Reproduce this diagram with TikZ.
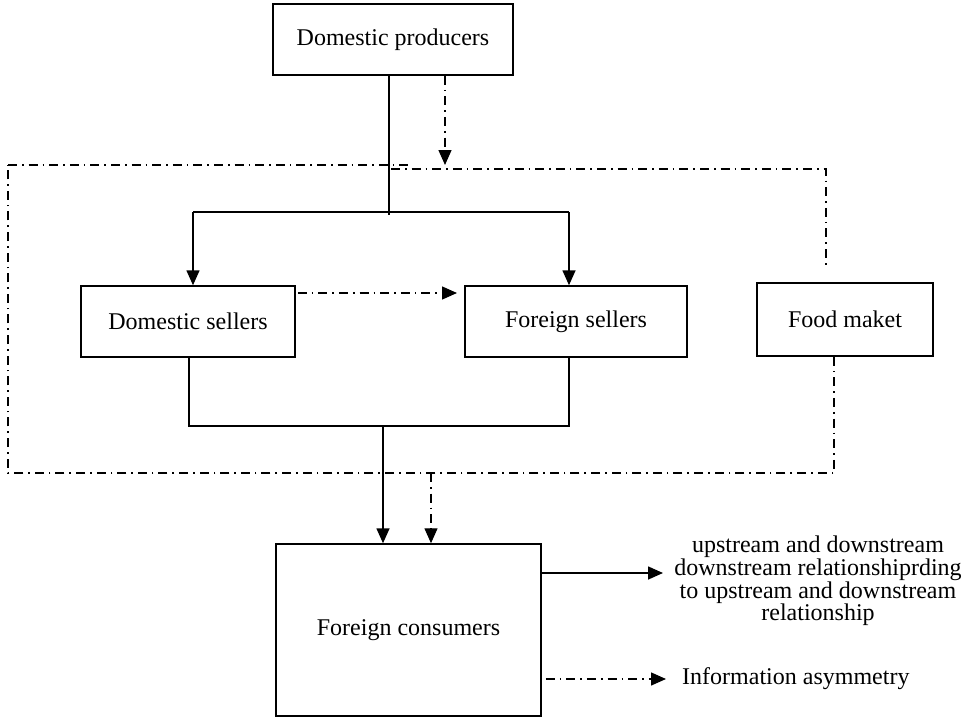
\documentclass[tikz,border=0pt]{standalone}
\usepackage{fontspec}
\setmainfont{Liberation Serif}
\usetikzlibrary{arrows.meta}
\begin{document}
\begin{tikzpicture}[x=1pt,y=-1pt,
  box/.style={draw,line width=1.5pt,inner sep=0pt,font=\fontsize{24}{21}\selectfont},
  flow/.style={line width=1.6pt},
  arr/.style={-{Triangle[length=15pt,width=13pt]}},
  dd/.style={line width=1.4pt,dash pattern=on 9pt off 5pt on 1.6pt off 5pt},
  lbl/.style={inner sep=0pt,font=\fontsize{24}{21}\selectfont}]
\useasboundingbox (0,0) rectangle (972,717);
% boxes
\node[box,minimum width=240pt,minimum height=71pt] (prod) at (393,39.5) {Domestic producers};
\node[box,minimum width=214pt,minimum height=71pt] (dsell) at (188,321.5) {Domestic sellers};
\node[box,minimum width=222pt,minimum height=71pt] (fsell) at (576,321.5) {Foreign sellers};
\node[box,minimum width=176pt,minimum height=73pt] (food) at (845,319.5) {Food maket};
\node[box,minimum width=265pt,minimum height=172pt] (cons) at (408.5,630) {Foreign consumers};
% labels
\node[lbl,align=center] (lup) at (818,581) {upstream and downstream\\downstream relationshiprding\\to upstream and downstream\\relationship};
\node[lbl,anchor=west] (linfo) at (682,679) {Information asymmetry};
% coordinates
\coordinate (pj) at (389,212);
\coordinate (jl) at (193,212);
\coordinate (jr) at (569,212);
\coordinate (bl) at (189,426);
\coordinate (br) at (569,426);
\coordinate (bm) at (383,426);
\coordinate (f1) at (8,165);
\coordinate (f2) at (410,165);
\coordinate (f3) at (391,169);
\coordinate (f4) at (826,169);
\coordinate (f5) at (826,265);
\coordinate (f6) at (834,473);
\coordinate (f7) at (8,473);
\coordinate (fd) at (431,473);
\coordinate (ptip) at (445,165);
\coordinate (dtip) at (457,293);
\coordinate (utip) at (663,573);
\coordinate (itip) at (666,679);
% solid flows
\draw[flow] (prod.south -| pj) -- ([yshift=-3pt]pj);
\draw[flow] (jl) -- (jr);
\draw[flow,arr] (jl) -- (jl |- dsell.north);
\draw[flow,arr] (jr) -- (jr |- fsell.north);
\draw[flow] (dsell.south -| bl) -- (bl) -- (br) -- (fsell.south -| br);
\draw[flow,arr] (bm) -- (bm |- cons.north);
\draw[flow,arr] (cons.east |- utip) -- (utip);
% dash-dot information flows
\draw[dd,arr] (prod.south -| ptip) -- (ptip);
\draw[dd,arr] ([xshift=2pt]dsell.east |- dtip) -- (dtip);
\draw[dd,arr] (fd) -- (fd |- cons.north);
\draw[dd,arr] ([xshift=4pt]cons.east |- itip) -- (itip);
% frame
\draw[dd] (f1) -- (f2);
\draw[dd] (f3) -- (f4) -- (f5);
\draw[dd] (food.south -| f6) -- (f6) -- (f7) -- (f1);
\end{tikzpicture}
\end{document}
